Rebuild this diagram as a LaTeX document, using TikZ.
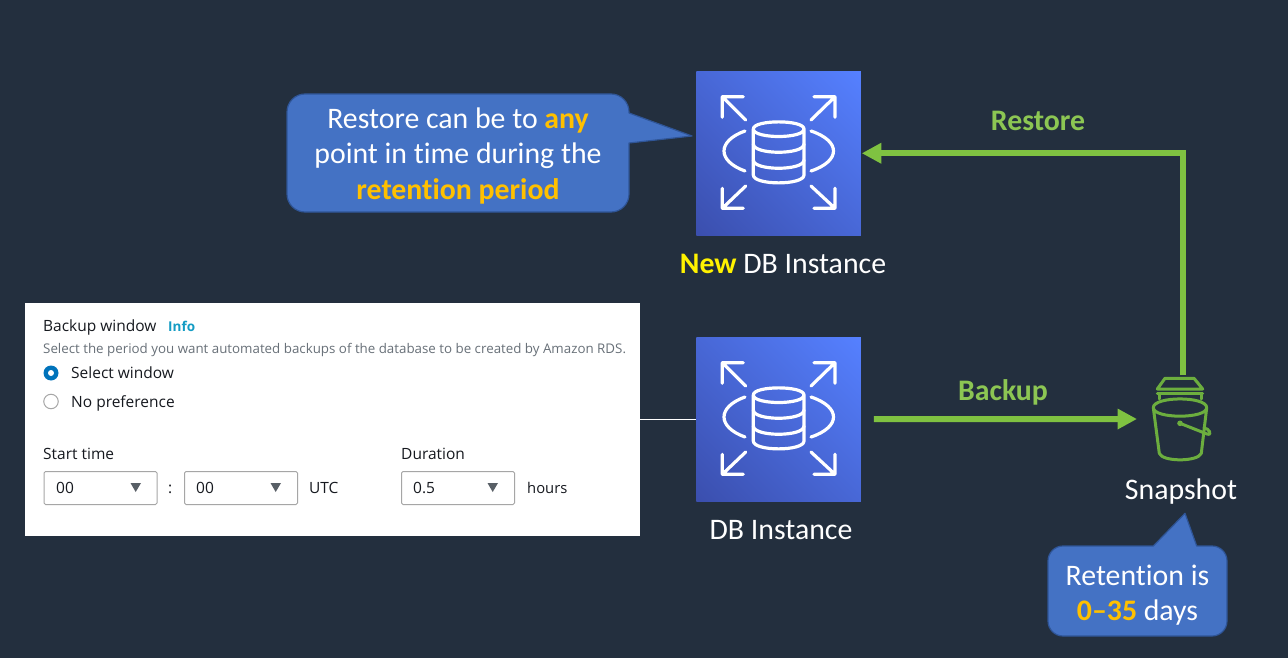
\documentclass[tikz,border=0pt]{standalone}
\usepackage{fontspec}
\setmainfont[Ligatures=NoCommon]{Carlito}
\newfontfamily\uifont{Open Sans}
\usetikzlibrary{arrows.meta}
\definecolor{bgc}{HTML}{232F3E}
\definecolor{calloutc}{HTML}{4472C4}
\definecolor{calloutb}{HTML}{2F5597}
\definecolor{gold}{HTML}{FFC000}
\definecolor{arrowg}{HTML}{7FC241}
\definecolor{labelg}{HTML}{8CC653}
\definecolor{bucketg}{HTML}{6CAE3E}
\definecolor{uitext}{HTML}{16191F}
\definecolor{uigray}{HTML}{687078}
\definecolor{uiblue}{HTML}{0073BB}
\definecolor{uiinfo}{HTML}{149CC4}
\definecolor{dbdark}{HTML}{3B4FAE}
\definecolor{dblight}{HTML}{5580FF}
\pgfdeclareverticalshading{dbgrad}{100bp}{color(0bp)=(dbdark); color(15bp)=(dbdark); color(85bp)=(dblight); color(100bp)=(dblight)}
\tikzset{
  x=1pt,y=-1pt,
  iconbox/.style={minimum width=164.5pt,minimum height=163.5pt,inner sep=0pt,outer sep=0pt,
    shading=dbgrad,shading angle=-45},
  glyph/.style={draw=white,line width=3.2pt,line cap=round,line join=round},
  caption/.style={text=white,font=\fontsize{29.8}{29.8}\selectfont,anchor=base,inner sep=0pt},
  calloutline/.style={text=white,font=\fontsize{29.8}{29.8}\selectfont,anchor=base,inner sep=0pt},
  greenlabel/.style={text=labelg,font=\fontsize{29.8}{29.8}\selectfont\bfseries,anchor=base,inner sep=0pt},
  flow/.style={draw=arrowg,line width=6pt,-{Triangle[length=19.5pt,width=19.5pt]}},
  ui/.style={text=uitext,font=\uifont\fontsize{15.5}{15.5}\selectfont,anchor=base west,inner sep=0pt},
  dropbox/.style={draw=black!35,fill=white,line width=1pt,rounded corners=1.5pt,minimum width=113pt,minimum height=33pt,inner sep=0pt,anchor=north west},
  tri/.style={fill=uigray!85!black},
  callout/.style={fill=calloutc,draw=calloutb,line width=1.2pt,line join=round},
  bucketline/.style={draw=bucketg,line width=3pt,line cap=round,line join=round},
  pics/dbglyph/.style={code={
    \draw[glyph] (47.3,25.7)--(26.3,25.7)--(26.3,46.3) (26.3,25.7)--(49.7,49);
    \draw[glyph] (118,25.7)--(139,25.7)--(139,46.3) (139,25.7)--(115,49);
    \draw[glyph] (47.3,137.3)--(26.3,137.3)--(26.3,117.3) (26.3,137.3)--(49.7,115);
    \draw[glyph] (118,137.3)--(139,137.3)--(139,117.3) (139,137.3)--(115,115);
    \draw[glyph] (49,60) .. controls (21,70) and (21,90) .. (49,100);
    \draw[glyph] (115,60) .. controls (145,70) and (145,90) .. (115,100);
    \draw[glyph] (57.3,58) .. controls (57.3,48.5) and (108,48.5) .. (108,58)
                 .. controls (108,68) and (57.3,68) .. (57.3,58) -- (57.3,104)
                 .. controls (57.3,114.5) and (108,114.5) .. (108,104) -- (108,58);
    \draw[glyph] (57.3,73) .. controls (57.3,84) and (108,84) .. (108,73);
    \draw[glyph] (57.3,89) .. controls (57.3,100) and (108,100) .. (108,89);
  }}
}
\begin{document}
\begin{tikzpicture}
\useasboundingbox (0,0) rectangle (1288,658);
\fill[bgc] (0,0) rectangle (1288,658);

% screenshot panel
\node[fill=white,minimum width=615pt,minimum height=233pt,inner sep=0pt,outer sep=0pt,anchor=north west] (panel) at (25,303) {};
\node[ui] (bw) at (43,331.7) {Backup window};
\node[ui,text=uiinfo,font=\uifont\fontsize{13.5}{13.5}\selectfont\bfseries] (info) at (168,331.7) {Info};
\node[ui,text=uigray,font=\uifont\fontsize{13.33}{13.33}\selectfont] (desc) at (43,353) {Select the period you want automated backups of the database to be created by Amazon RDS.};
\node[circle,fill=uiblue,minimum size=15pt,inner sep=0pt] (r1) at (51,373) {};
\node[circle,fill=white,minimum size=6pt,inner sep=0pt] (r1c) at (51,373) {};
\node[circle,draw=black!35,fill=white,line width=1pt,minimum size=14.5pt,inner sep=0pt] (r2) at (51,401.5) {};
\node[ui] (sw) at (71,378.7) {Select window};
\node[ui] (np) at (71,407) {No preference};
\node[ui] (st) at (43,459) {Start time};
\node[ui] (du) at (401,459) {Duration};
\node[dropbox] (d1) at (43.5,471) {};
\node[dropbox] (d2) at (184,471) {};
\node[dropbox] (d3) at (401,471) {};
\node[ui] (d1t) at (56,493.5) {00};
\node[ui] (colon) at (168,493.5) {:};
\node[ui] (d2t) at (196,493.5) {00};
\node[ui] (utc) at (309,493.5) {UTC};
\node[ui] (d3t) at (413,493.5) {0.5};
\node[ui,font=\uifont\fontsize{14.8}{14.8}\selectfont] (hrs) at (527,493.5) {hours};
\fill[tri] (130.5,483) -- (141,483) -- (135.7,492) -- cycle;
\fill[tri] (270.5,483) -- (281,483) -- (275.7,492) -- cycle;
\fill[tri] (487.5,483) -- (498,483) -- (492.7,492) -- cycle;

% DB icons
\node[iconbox,anchor=north west] (newdb) at (696.3,71.5) {};
\pic at (696,71) {dbglyph};
\node[iconbox,anchor=north west] (db) at (696.3,337.5) {};
\pic at (696,337) {dbglyph};

% bucket (snapshot icon)
\node[minimum width=60pt,minimum height=88pt,inner sep=0pt,outer sep=0pt] (bucket) at (1183,419) {};
\draw[bucketline] (1165,378.3) -- (1194,378.3) -- (1202.7,389) -- (1157.3,389) -- cycle;
\draw[bucketline] (1159.3,399) -- (1159.3,393.3) -- (1157.3,393.3) -- (1202.7,393.3) -- (1201,393.3) -- (1201,399);
\draw[bucketline] (1153.3,407.7) .. controls (1153.3,396) and (1206.7,396) .. (1206.7,407.7)
   .. controls (1206.7,419) and (1153.3,419) .. (1153.3,407.7)
   -- (1159.3,453.3) .. controls (1162,462) and (1198,462) .. (1201.3,453.3) -- (1206.7,407.7);
\draw[bucketline] (1180,423.3) -- (1207,434) .. controls (1213,436) and (1209,428) .. (1204,428);
\fill[bucketg] (1180,423.3) circle (2.8pt);

% connectors
\draw[flow,shorten >=1pt] (bucket.north) |- (newdb.east);
\draw[flow,shorten <=13pt,shorten >=16pt] (db.east) -- (bucket.west);
\draw[white,line width=1pt] (panel.east |- db.west) -- (db.west);

% labels
\node[greenlabel] (lr) at (1038,130.3) {Restore};
\node[greenlabel] (lb) at (1003,400) {Backup};
\node[caption] (cn) at (783,273) {\textcolor{yellow}{\bfseries New} DB Instance};
\node[caption] (cd) at (781,539) {DB Instance};
\node[caption] (cs) at (1181,499) {Snapshot};

% callouts
\draw[callout] (305,94) -- (611,94) arc[start angle=-90,end angle=0,radius=18] -- (629,113)
  -- (692,136) -- (629,143) -- (629,194) arc[start angle=0,end angle=90,radius=18]
  -- (305,212) arc[start angle=90,end angle=180,radius=18] -- (287,112) arc[start angle=180,end angle=270,radius=18] -- cycle;
\node[calloutline] (c1a) at (458,128.3) {Restore can be to \textcolor{gold}{\bfseries any}};
\node[calloutline] (c1b) at (458,163.3) {point in time during the};
\node[calloutline] (c1c) at (458,199.5) {\textcolor{gold}{\bfseries retention period}};

\draw[callout] (1063,546) -- (1153.3,546) -- (1185,513.3) -- (1196.7,546) -- (1212,546)
  arc[start angle=-90,end angle=0,radius=15] -- (1227,621) arc[start angle=0,end angle=90,radius=15]
  -- (1063,636) arc[start angle=90,end angle=180,radius=15] -- (1048,561) arc[start angle=180,end angle=270,radius=15] -- cycle;
\node[calloutline] (c2a) at (1137.5,585) {Retention is};
\node[calloutline] (c2b) at (1137.5,620.3) {\textcolor{gold}{\bfseries 0--35} days};
\end{tikzpicture}
\end{document}
